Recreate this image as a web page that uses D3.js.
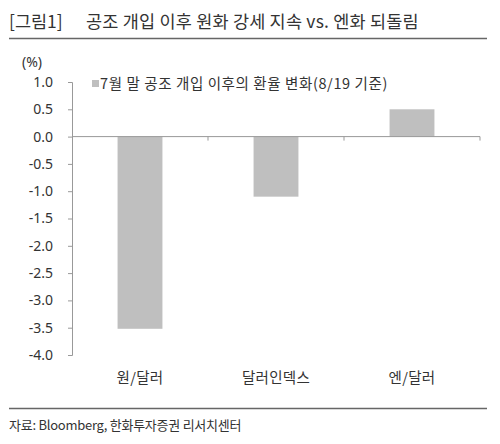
<!DOCTYPE html>
<html>
<head>
<meta charset="utf-8">
<script src="https://cdn.jsdelivr.net/npm/d3@7"></script>
<style>
  body { margin: 0; background: #fff; }
  text { font-family: "Noto Sans CJK KR", "Noto Sans", sans-serif; fill: #333; }
</style>
</head>
<body>
<div id="chart"></div>
<script>
const categories = ["원/달러", "달러인덱스", "엔/달러"]
const values = [-3.52, -1.10, 0.50]
const yTicks = [1.0, 0.5, 0.0, -0.5, -1.0, -1.5, -2.0, -2.5, -3.0, -3.5, -4.0]
const seriesName = "7월 말 공조 개입 이후의 환율 변화(8/19 기준)"

const width = 500, height = 444
const margin = {top: 82, left: 72, right: 20, bottom: 89}

const svg = d3.select("#chart").append("svg")
    .attr("width", width)
    .attr("height", height)

// title + rules
svg.append("text")
    .attr("x", 9).attr("y", 28)
    .attr("font-size", 17.5)
    .text("[그림1]")
svg.append("text")
    .attr("x", 86).attr("y", 28)
    .attr("font-size", 17.5)
    .attr("letter-spacing", 0.2)
    .text("공조 개입 이후 원화 강세 지속 vs. 엔화 되돌림")
svg.append("line")
    .attr("x1", 9).attr("x2", 487)
    .attr("y1", 38.5).attr("y2", 38.5)
    .attr("stroke", "#666").attr("stroke-width", 1.5)
svg.append("line")
    .attr("x1", 9).attr("x2", 487)
    .attr("y1", 408.5).attr("y2", 408.5)
    .attr("stroke", "#666").attr("stroke-width", 1.5)
svg.append("text")
    .attr("x", 9).attr("y", 430)
    .attr("font-size", 13)
    .attr("letter-spacing", -0.25)
    .text("자료: Bloomberg, 한화투자증권 리서치센터")

const x = d3.scaleBand()
    .domain(categories)
    .range([margin.left, 480])
    .paddingInner(0.67).paddingOuter(0.335)

const y = d3.scaleLinear()
    .domain([-4, 1])
    .range([355, margin.top])

const g = svg.append("g")

g.append("g")
    .selectAll("rect")
    .data(values)
    .join("rect")
    .attr("x", (d, i) => x(categories[i]))
    .attr("width", x.bandwidth())
    .attr("y", d => y(Math.max(0, d)))
    .attr("height", d => Math.abs(y(d) - y(0)))
    .attr("fill", "#bfbfbf")

// y axis
const yAxis = g.append("g")
    .attr("transform", `translate(${margin.left},0)`)
    .call(d3.axisLeft(y).tickValues(yTicks).tickFormat(d3.format(".1f")).tickSize(4).tickPadding(15))
yAxis.select(".domain").attr("stroke", "#999")
yAxis.selectAll(".tick line").attr("stroke", "#999")
yAxis.selectAll("text")
    .attr("font-size", 14)
    .attr("fill", "#333")
    .style("font-family", "'Noto Sans', sans-serif")
    .text(d => d.toFixed(1))

// zero axis with category ticks
const xAxis = g.append("g")
    .attr("transform", `translate(0,${y(0)})`)
xAxis.append("line")
    .attr("x1", margin.left).attr("x2", 480)
    .attr("stroke", "#999")
const bandStep = x.step()
xAxis.selectAll(".ctick")
    .data(categories)
    .join("line")
    .attr("x1", d => x(d) + x.bandwidth() / 2 + bandStep / 2)
    .attr("x2", d => x(d) + x.bandwidth() / 2 + bandStep / 2)
    .attr("y1", 0).attr("y2", 4)
    .attr("stroke", "#999")

// category labels
g.selectAll(".clabel")
    .data(categories)
    .join("text")
    .attr("x", d => x(d) + x.bandwidth() / 2)
    .attr("y", 383)
    .attr("text-anchor", "middle")
    .attr("font-size", 14.5)
    .attr("letter-spacing", 0.3)
    .text(d => d)

// unit
svg.append("text")
    .attr("x", 22).attr("y", 67)
    .attr("font-size", 14)
    .style("font-family", "'Noto Sans', sans-serif")
    .text("(%)")

// legend
svg.append("rect")
    .attr("x", 92).attr("y", 80)
    .attr("width", 7).attr("height", 7)
    .attr("fill", "#bfbfbf")
svg.append("text")
    .attr("x", 100).attr("y", 89)
    .attr("font-size", 14.5)
    .attr("letter-spacing", 0.6)
    .text(seriesName)
</script>
</body>
</html>
